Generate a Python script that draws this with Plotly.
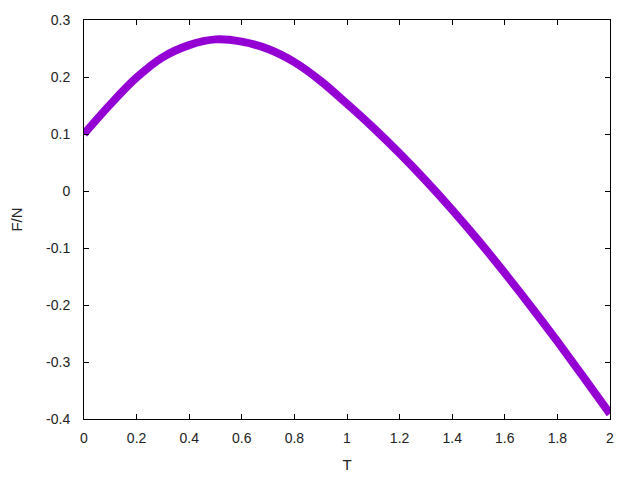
import plotly.graph_objects as go

T = [0.0, 0.1, 0.2, 0.3, 0.4, 0.5, 0.6, 0.7, 0.8, 0.9, 1.0,
     1.1, 1.2, 1.3, 1.4, 1.5, 1.6, 1.7, 1.8, 1.9, 2.0]
F = [0.100, 0.152, 0.199, 0.235, 0.256, 0.266, 0.262, 0.249, 0.226, 0.193, 0.153,
     0.111, 0.066, 0.018, -0.033, -0.087, -0.144, -0.203, -0.264, -0.327, -0.391]

x_ticks = [0, 0.2, 0.4, 0.6, 0.8, 1.0, 1.2, 1.4, 1.6, 1.8, 2.0]
x_labels = ["0", "0.2", "0.4", "0.6", "0.8", "1", "1.2", "1.4", "1.6", "1.8", "2"]
y_ticks = [0.3, 0.2, 0.1, 0.0, -0.1, -0.2, -0.3, -0.4]
y_labels = ["0.3", "0.2", "0.1", "0", "-0.1", "-0.2", "-0.3", "-0.4"]

fig = go.Figure()
fig.add_trace(go.Scatter(
    x=T, y=F, mode="lines",
    line=dict(color="#9400D3", width=8, shape="spline"),
    showlegend=False,
))

font = dict(family="Liberation Sans, Arial, sans-serif", size=14, color="#222222")
fig.update_layout(
    width=640, height=480,
    margin=dict(l=76, r=38, t=12, b=69),
    paper_bgcolor="white", plot_bgcolor="white",
    font=font,
    xaxis=dict(
        range=[0, 2], tickvals=x_ticks, ticktext=x_labels,
        showgrid=False, zeroline=False, automargin=False,
        showline=True, linecolor="black", linewidth=1, mirror="ticks",
        ticks="inside", ticklen=5, tickcolor="black",
        ticklabelstandoff=6,
        title=dict(text="T", standoff=14, font=dict(size=15)),
    ),
    yaxis=dict(
        range=[-0.4, 0.3], tickvals=y_ticks, ticktext=y_labels,
        showgrid=False, zeroline=False, automargin=False,
        showline=True, linecolor="black", linewidth=1, mirror="ticks",
        ticks="inside", ticklen=5, tickcolor="black",
        ticklabelstandoff=10,
        title=dict(text="F/N", standoff=20, font=dict(size=15)),
    ),
)
fig.write_html("out.html")
